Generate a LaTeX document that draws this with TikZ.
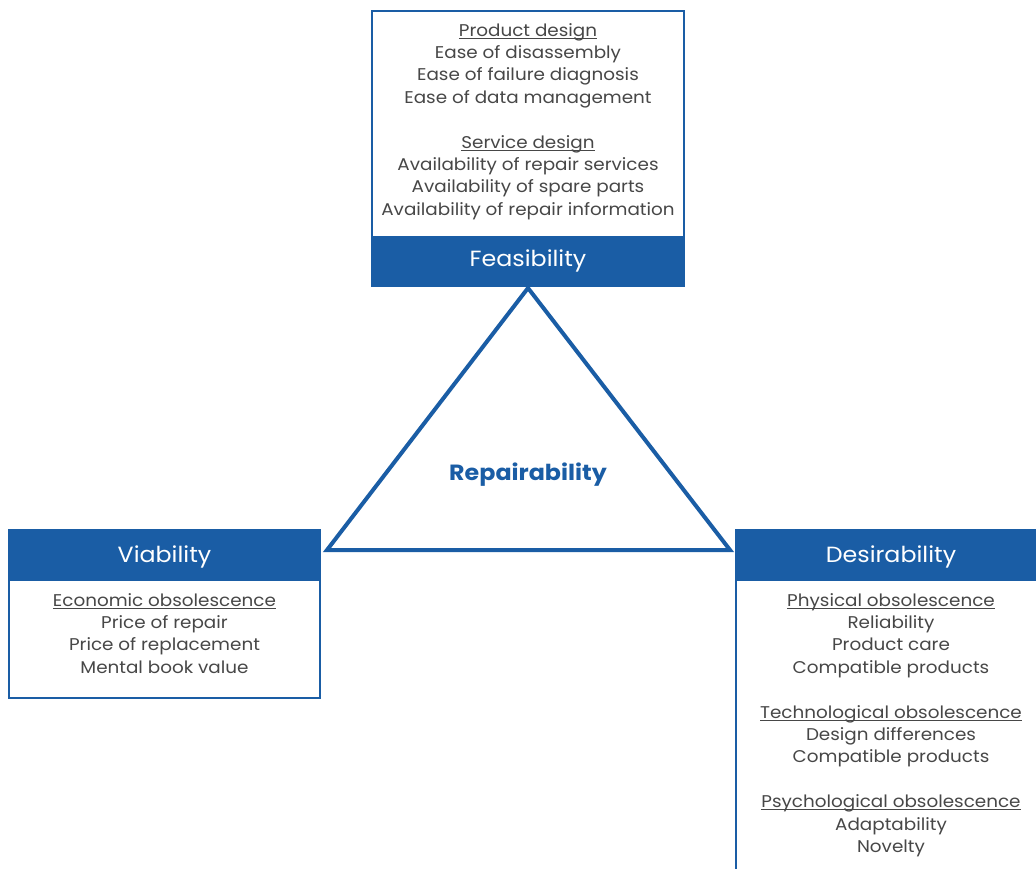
\documentclass[tikz,border=0pt]{standalone}
\usepackage{fontspec}
\setmainfont{Poppins}[FakeStretch=1.08]
\usetikzlibrary{positioning}
\definecolor{brand}{HTML}{1A5DA5}
\definecolor{bodytext}{HTML}{474747}
\newlength\headw
\newcommand{\heading}[1]{\settowidth{\headw}{#1}\rlap{\rule[-2.2pt]{\headw}{0.8pt}}#1}
\begin{document}
\begin{tikzpicture}[x=1pt,y=-1pt,
  frame/.style={draw=brand, line width=2.4pt, fill=white},
  bandlabel/.style={text=white, font=\fontsize{22}{24}\selectfont},
  items/.style={text=bodytext, align=center, inner sep=0pt,
    font=\fontsize{17}{22.4}\selectfont},
  core/.style={text=brand, font=\bfseries\fontsize{22}{26}\selectfont}]
\useasboundingbox (0,0) rectangle (1036,868);
\clip (0,0) rectangle (1036,868);

% triangle connecting the three dimensions
\coordinate (apex) at (528,288);
\coordinate (left) at (327,550);
\coordinate (right) at (730,550);
\draw[draw=brand, line width=4pt, fill=white, line join=miter] (apex) -- (left) -- (right) -- cycle;
\node[core] (rep) at (528,475) {Repairability};

% Feasibility
\draw[frame] (372,11) rectangle (684,286);
\fill[brand] (372,236) rectangle (684,286);
\node[bandlabel] (feas) at (528,261) {Feasibility};
\node[items, anchor=north] (feasitems) at (528,23) {%
  \heading{Product design}\\
  Ease of disassembly\\
  Ease of failure diagnosis\\
  Ease of data management\\
  ~\\
  \heading{Service design}\\
  Availability of repair services\\
  Availability of spare parts\\
  Availability of repair information};

% Viability
\draw[frame] (9,530) rectangle (320,698);
\fill[brand] (9,530) rectangle (320,581);
\node[bandlabel] (via) at (164.5,557) {Viability};
\node[items, anchor=north] (viaitems) at (164.5,593) {%
  \heading{Economic obsolescence}\\
  Price of repair\\
  Price of replacement\\
  Mental book value};

% Desirability
\draw[frame] (736,530) rectangle (1050,890);
\fill[brand] (736,530) rectangle (1050,581);
\node[bandlabel] (des) at (891,557) {Desirability};
\node[items, anchor=north] (desitems) at (891,593) {%
  \heading{Physical obsolescence}\\
  Reliability\\
  Product care\\
  Compatible products\\
  ~\\
  \heading{Technological obsolescence}\\
  Design differences\\
  Compatible products\\
  ~\\
  \heading{Psychological obsolescence}\\
  Adaptability\\
  Novelty};
\end{tikzpicture}
\end{document}
